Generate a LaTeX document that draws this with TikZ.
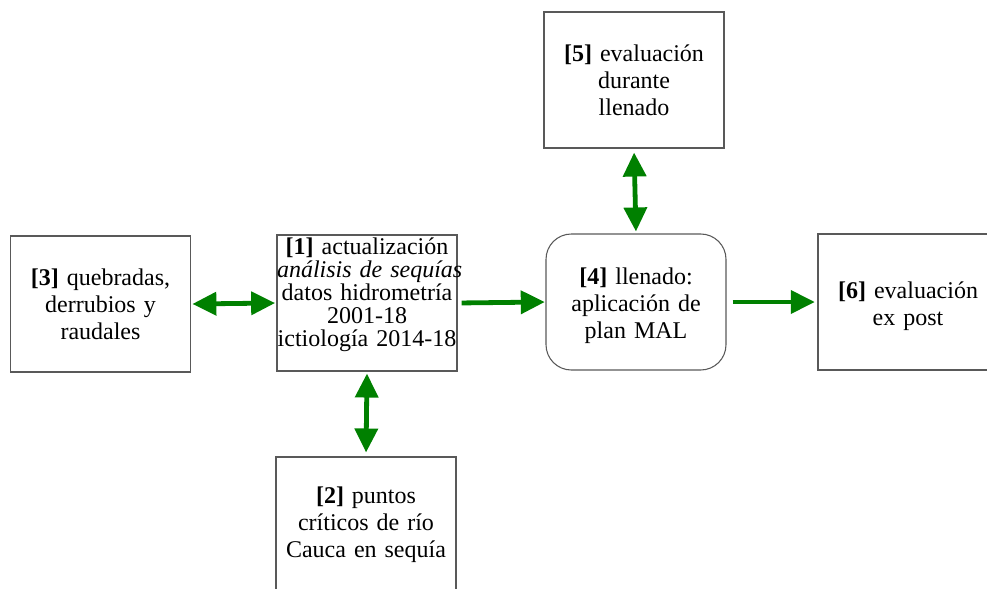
\documentclass[tikz,border=0pt]{standalone}
\usepackage{fontspec}
\setmainfont{Liberation Serif}
\newfontfamily\letra{Liberation Serif}
\usetikzlibrary{arrows.meta}
\definecolor{verde}{RGB}{0,128,0}
\tikzset{
    caja/.style={draw=black!65, line width=0.8pt, text width=135pt, minimum height=102pt,
        align=center, inner sep=0pt, font=\letra\fontsize{18}{20.25}\selectfont},
    doble/.style={draw=verde, line width=3.6pt,
        {Triangle[length=18pt,width=17pt]}-{Triangle[length=18pt,width=17pt]}},
    simple/.style={draw=verde, line width=3.6pt, -{Triangle[length=18pt,width=17pt]}}
}

\begin{document}
\begin{tikzpicture}[x=0.75pt, y=-0.75pt]
    \useasboundingbox (0,0) rectangle (987,588);
    % cajas
    \node[caja] (quebradas) at (100.5,304) {\textbf{[3]} quebradas,\\derrubios y\\raudales};
    \node[caja, font=\letra\fontsize{18}{17.25}\selectfont] (actualiz) at (367,303)
        {\textbf{[1]} actualización\\\mbox{\textit{análisis de sequías}}\\datos hidrometría\\2001-18\\\mbox{ictiología 2014-18}\\[-1.5pt]\mbox{}};
    \node[caja] (puntos) at (366,525) {\textbf{[2]} puntos\\críticos de río\\Cauca en sequía};
    \node[caja, rounded corners=19pt] (llenado) at (636,302) {\textbf{[4]} llenado:\\aplicación de\\plan MAL\\[-22.25pt]\mbox{}};
    \node[caja] (durante) at (634,80) {\textbf{[5]} evaluación\\durante\\llenado};
    \node[caja] (expost) at (908,302) {\textbf{[6]} evaluación\\ex post\\[-22.25pt]\mbox{}};
    % flechas
    \draw[doble, shorten <=1pt, shorten >=1pt] (quebradas.east) -- (actualiz.west);
    \draw[doble, shorten <=1.5pt, shorten >=3pt] (actualiz.south) -- (puntos.north);
    \draw[simple, shorten <=3pt, shorten >=0.5pt] (actualiz.east) -- (llenado.west);
    \draw[doble, shorten <=1.5pt, shorten >=3pt] (llenado.north) -- (durante.south);
    \draw[simple, shorten <=4.5pt, shorten >=2pt] (llenado.east) -- (expost.west);
\end{tikzpicture}
\end{document}
